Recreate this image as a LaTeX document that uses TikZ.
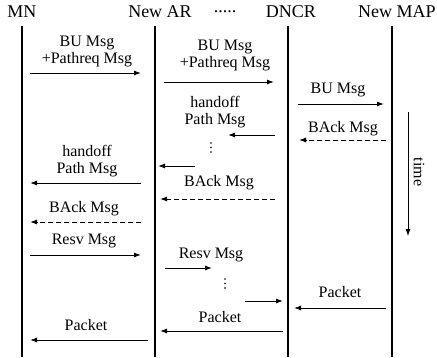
\documentclass[tikz,border=0pt]{standalone}
\usepackage{fontspec}
\setmainfont{Liberation Serif}
\usepackage{tikz}
\usetikzlibrary{positioning,arrows.meta}

\newcommand{\msgfont}{\fontsize{16}{17}\selectfont}
\newcommand{\headfont}{\fontsize{18}{20}\selectfont}

\tikzset{
	lifeline/.style={line width=1.6pt},
	msgarrow/.style={-{Latex[length=7pt,width=5pt]},line width=1pt},
	ackarrow/.style={msgarrow,dash pattern=on 5pt off 3pt},
	msglabel/.style={font=\msgfont,align=center,inner sep=0pt},
	headlabel/.style={font=\headfont,inner sep=0pt},
	waitdot/.style={circle,fill,inner sep=0pt,minimum size=1.6pt}
}

\begin{document}
\begin{tikzpicture}[x=1pt,y=-1pt]
		
		\useasboundingbox (0,0) rectangle (437,357);
		
		% entities
		\node[headlabel] (mn) at (22,12) {MN};
		
		\node[headlabel] (newar) at (160,12) {New AR};
		
		\node[headlabel] (gap) at (225,12) {.....};
		
		\node[headlabel,anchor=west] (newmap) at (358,12) {New MAP};
		
		\node[headlabel] (dncr) at (291,12) {DNCR};
		
		% life lines
		\coordinate (mntop) at (22,26);
		\coordinate (mnbot) at (22,357);
		\coordinate (artop) at (155,26);
		\coordinate (arbot) at (155,357);
		\coordinate (dntop) at (288,26);
		\coordinate (dnbot) at (288,357);
		\coordinate (maptop) at (392,26);
		\coordinate (mapbot) at (392,357);
		
		\draw[lifeline] (mntop)--(mnbot);
		\draw[lifeline] (artop)--(arbot);
		\draw[lifeline] (dntop)--(dnbot);
		\draw[lifeline] (maptop)--(mapbot);
		
		% binding update
		\node[msglabel] (bu1) at (87,51) {BU Msg\\+Pathreq Msg};
		\coordinate (bu1s) at (30,73);
		\coordinate (bu1e) at (141,73);
		\draw[msgarrow] (bu1s)--(bu1e);
		
		\node[msglabel] (bu2) at (225,55) {BU Msg\\+Pathreq Msg};
		\coordinate (bu2s) at (164,82);
		\coordinate (bu2e) at (274,82);
		\draw[msgarrow] (bu2s)--(bu2e);
		
		\node[msglabel] (bu3) at (338,90) {BU Msg};
		\coordinate (bu3s) at (298,104);
		\coordinate (bu3e) at (384,104);
		\draw[msgarrow] (bu3s)--(bu3e);
		
		% acknowledgements and handoff path
		\node[msglabel] (back3) at (343,129) {BAck Msg};
		\coordinate (back3s) at (386,140);
		\coordinate (back3e) at (299,140);
		\draw[ackarrow] (back3s)--(back3e);
		
		\node[msglabel] (hp2) at (215,112) {handoff\\Path Msg};
		\coordinate (hp2s) at (275,135);
		\coordinate (hp2e) at (228,135);
		\draw[msgarrow] (hp2s)--(hp2e);
		
		\foreach \y [count=\i] in {143,147.5,152}
			\node[waitdot] (dotsa\i) at (211,\y) {};
		
		\coordinate (hp0s) at (195,166);
		\coordinate (hp0e) at (158,166);
		\draw[msgarrow] (hp0s)--(hp0e);
		
		\node[msglabel] (hp1) at (87,161) {handoff\\Path Msg};
		\coordinate (hp1s) at (141,183);
		\coordinate (hp1e) at (30,183);
		\draw[msgarrow] (hp1s)--(hp1e);
		
		\node[msglabel] (back2) at (219,183) {BAck Msg};
		\coordinate (back2s) at (275,199);
		\coordinate (back2e) at (160,199);
		\draw[ackarrow] (back2s)--(back2e);
		
		\node[msglabel] (back1) at (84,209) {BAck Msg};
		\coordinate (back1s) at (141,222);
		\coordinate (back1e) at (30,222);
		\draw[ackarrow] (back1s)--(back1e);
		
		% reservation
		\node[msglabel] (resv1) at (84,241) {Resv Msg};
		\coordinate (resv1s) at (30,255);
		\coordinate (resv1e) at (141,255);
		\draw[msgarrow] (resv1s)--(resv1e);
		
		\node[msglabel] (resv2) at (211,255) {Resv Msg};
		\coordinate (resv2s) at (165,268);
		\coordinate (resv2e) at (212,268);
		\draw[msgarrow] (resv2s)--(resv2e);
		
		\foreach \y [count=\i] in {279,283.5,288}
			\node[waitdot] (dotsb\i) at (225,\y) {};
		
		\coordinate (resv3s) at (245,301);
		\coordinate (resv3e) at (283,301);
		\draw[msgarrow] (resv3s)--(resv3e);
		
		% data
		\node[msglabel] (pk3) at (340,292) {Packet};
		\coordinate (pk3s) at (386,308);
		\coordinate (pk3e) at (294,308);
		\draw[msgarrow] (pk3s)--(pk3e);
		
		\node[msglabel] (pk2) at (220,317) {Packet};
		\coordinate (pk2s) at (283,331);
		\coordinate (pk2e) at (160,331);
		\draw[msgarrow] (pk2s)--(pk2e);
		
		\node[msglabel] (pk1) at (86,325) {Packet};
		\coordinate (pk1s) at (148,340);
		\coordinate (pk1e) at (30,340);
		\draw[msgarrow] (pk1s)--(pk1e);
		
		% time axis
		\coordinate (t0) at (408,112);
		\coordinate (t1) at (408,236);
		\draw[msgarrow,line width=0.8pt] (t0)--(t1);
		
		\node[msglabel,rotate=-90] (time) at (419,172) {time};
		
	\end{tikzpicture}
\end{document}
